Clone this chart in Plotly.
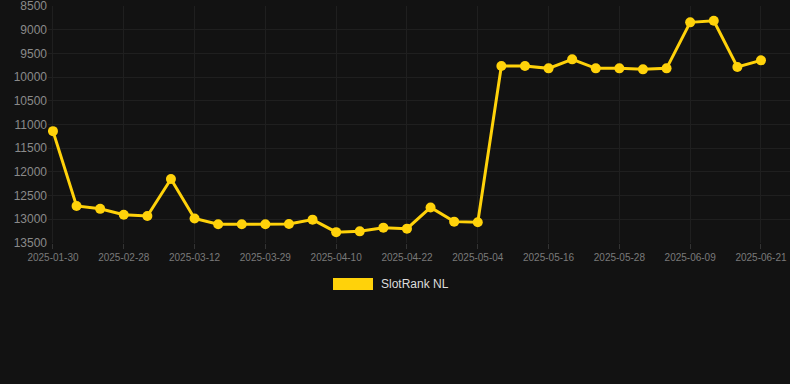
import plotly.graph_objects as go

dates = ["2025-01-30", "2025-02-10", "2025-02-20", "2025-02-28", "2025-03-04", "2025-03-08",
         "2025-03-12", "2025-03-18", "2025-03-24", "2025-03-29", "2025-04-02", "2025-04-06",
         "2025-04-10", "2025-04-14", "2025-04-18", "2025-04-22", "2025-04-26", "2025-04-30",
         "2025-05-04", "2025-05-08", "2025-05-12", "2025-05-16", "2025-05-20", "2025-05-24",
         "2025-05-28", "2025-06-01", "2025-06-05", "2025-06-09", "2025-06-13", "2025-06-17",
         "2025-06-21"]
ranks = [11140, 12720, 12780, 12905, 12930, 12150, 12985, 13105, 13105, 13105, 13100, 13008,
         13272, 13255, 13177, 13198, 12750, 13050, 13062, 9766, 9766, 9815, 9625, 9815,
         9815, 9836, 9815, 8844, 8810, 9787, 9646]
tick_labels = dates[::3]
y_ticks = [8500, 9000, 9500, 10000, 10500, 11000, 11500, 12000, 12500, 13000, 13500]

gold = "#FFD20A"
bg = "#121212"
grid = "#1f1f1f"

fig = go.Figure()
fig.add_trace(go.Scatter(
    x=dates, y=ranks, mode="lines+markers", name="SlotRank NL",
    line=dict(color=gold, width=3),
    marker=dict(color=gold, size=10),
    showlegend=False,
))

fig.update_layout(
    width=790, height=384,
    margin=dict(l=48, r=0, t=6, b=141),
    paper_bgcolor=bg, plot_bgcolor=bg,
    font=dict(family="Arial, Liberation Sans, sans-serif"),
    xaxis=dict(
        type="category", categoryorder="array", categoryarray=dates,
        range=[-0.21, 31.23],
        tickmode="array", tickvals=tick_labels, ticktext=tick_labels,
        showgrid=True, gridcolor=grid, gridwidth=1,
        ticks="outside", ticklen=5, tickcolor="#333333",
        tickfont=dict(size=10, color="#7a7a7a"),
        zeroline=False, showline=False,
    ),
    yaxis=dict(
        range=[13501, 8499],
        tickmode="array", tickvals=y_ticks, ticktext=[str(v) for v in y_ticks],
        showgrid=True, gridcolor=grid, gridwidth=1,
        tickfont=dict(size=12, color="#8a8a8a"),
        ticklabeloverflow="allow",
        zeroline=False, showline=False, ticks="",
    ),
    shapes=[dict(type="rect", xref="paper", yref="paper",
                 x0=(333 - 48) / 742, x1=(373 - 48) / 742,
                 y0=(243 - 290) / 237, y1=(243 - 278) / 237,
                 fillcolor=gold, line=dict(width=0))],
    annotations=[dict(text="SlotRank NL", xref="paper", yref="paper",
                      x=(379 - 48) / 742, y=(243 - 284) / 237,
                      xanchor="left", yanchor="middle", showarrow=False,
                      font=dict(size=12, color="#dddddd"))],
)

fig.write_html("out.html")
